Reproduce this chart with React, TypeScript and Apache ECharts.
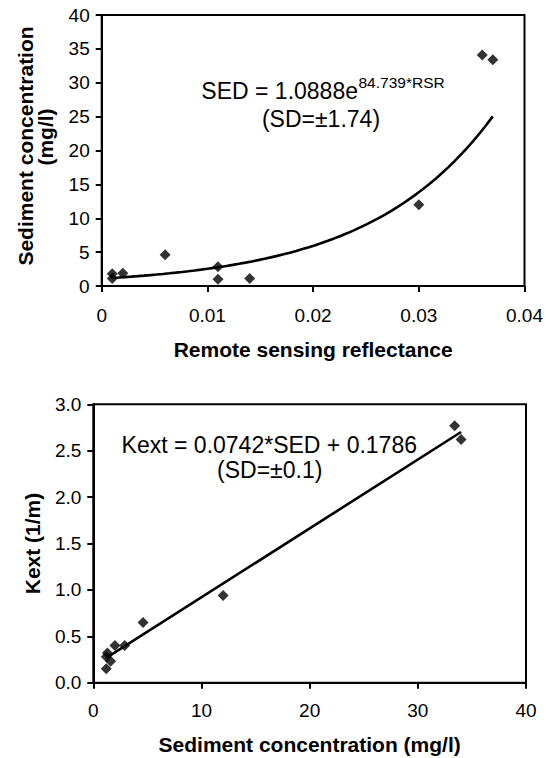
import { useEffect, useRef } from "react";
import * as echarts from "echarts";

// Top chart: remote sensing reflectance vs sediment concentration
const rsrValues = [0.001, 0.001, 0.002, 0.006, 0.011, 0.011, 0.014, 0.03, 0.036, 0.037];
const sedTopValues = [1.8, 1.1, 1.9, 4.6, 2.85, 1.0, 1.1, 12.0, 34.1, 33.4];
const topXTicks = [0, 0.01, 0.02, 0.03, 0.04];
const topYTicks = [0, 5, 10, 15, 20, 25, 30, 35, 40];
const expA = 1.0888;
const expB = 84.739;

// Bottom chart: sediment concentration vs Kext
const sedBottomValues = [1.2, 1.2, 1.3, 1.6, 2.0, 2.9, 4.6, 12.0, 33.4, 34.0];
const kextValues = [0.15, 0.28, 0.32, 0.23, 0.4, 0.4, 0.65, 0.94, 2.77, 2.62];
const bottomXTicks = [0, 10, 20, 30, 40];
const bottomYTicks = [0, 0.5, 1.0, 1.5, 2.0, 2.5, 3.0];
const linSlope = 0.0742;
const linIntercept = 0.1786;

const FONT = "'Liberation Sans', Arial, Helvetica, sans-serif";

export default function App() {
  const ref = useRef<HTMLDivElement>(null);

  useEffect(() => {
    if (!ref.current) return;
    const chart = echarts.init(ref.current, undefined, { renderer: "svg" });

    const topPoints = rsrValues.map((x, i) => [x, sedTopValues[i]]);
    const bottomPoints = sedBottomValues.map((x, i) => [x, kextValues[i]]);

    // trend lines from the equations shown on the chart
    const rMin = Math.min(...rsrValues);
    const rMax = Math.max(...rsrValues);
    const expCurve: number[][] = [];
    const nSteps = 60;
    for (let i = 0; i <= nSteps; i++) {
      const x = rMin + ((rMax - rMin) * i) / nSteps;
      expCurve.push([x, expA * Math.exp(expB * x)]);
    }
    const sMin = Math.min(...sedBottomValues);
    const sMax = Math.max(...sedBottomValues);
    const linLine = [
      [sMin, linSlope * sMin + linIntercept],
      [sMax, linSlope * sMax + linIntercept],
    ];

    const axisCommon = {
      axisLine: { show: true, lineStyle: { color: "#000", width: 2 } },
      axisTick: { show: true, inside: false, length: 6, lineStyle: { color: "#000", width: 2 } },
      splitLine: { show: false },
      nameTextStyle: { fontFamily: FONT, fontSize: 21, fontWeight: "bold" as const, color: "#000" },
    };

    const titleStyle = { fontFamily: FONT, fontSize: 21, fontWeight: "bold" as const, fill: "#000", align: "center" as const, verticalAlign: "middle" as const };

    chart.setOption({
      animation: false,
      backgroundColor: "#fff",
      grid: [
        { left: 101.7, right: 546 - 527.3, top: 15, height: 271, show: true, borderColor: "#000", borderWidth: 2, backgroundColor: "transparent" },
        { left: 93.3, right: 546 - 526, top: 404.3, height: 278.4, show: true, borderColor: "#000", borderWidth: 2, backgroundColor: "transparent" },
      ],
      xAxis: [
        {
          ...axisCommon,
          type: "value",
          gridIndex: 0,
          min: topXTicks[0],
          max: topXTicks[topXTicks.length - 1],
          interval: topXTicks[1] - topXTicks[0],
          name: "Remote sensing reflectance",
          nameLocation: "middle",
          nameGap: 53,
          axisLabel: { fontFamily: FONT, fontSize: 19, color: "#000", margin: 20 },
        },
        {
          ...axisCommon,
          type: "value",
          gridIndex: 1,
          min: bottomXTicks[0],
          max: bottomXTicks[bottomXTicks.length - 1],
          interval: bottomXTicks[1] - bottomXTicks[0],
          name: "Sediment concentration (mg/l)",
          nameLocation: "middle",
          nameGap: 51,
          axisLabel: { fontFamily: FONT, fontSize: 19, color: "#000", margin: 18 },
        },
      ],
      yAxis: [
        {
          ...axisCommon,
          type: "value",
          gridIndex: 0,
          min: topYTicks[0],
          max: topYTicks[topYTicks.length - 1],
          interval: topYTicks[1] - topYTicks[0],
          axisLabel: { fontFamily: FONT, fontSize: 19, color: "#000", margin: 12 },
        },
        {
          ...axisCommon,
          type: "value",
          gridIndex: 1,
          min: bottomYTicks[0],
          max: bottomYTicks[bottomYTicks.length - 1],
          interval: bottomYTicks[1] - bottomYTicks[0],
          name: "Kext (1/m)",
          nameLocation: "middle",
          nameRotate: 90,
          nameGap: 50,
          axisLabel: {
            fontFamily: FONT,
            fontSize: 19,
            color: "#000",
            margin: 12,
            formatter: (v: number) => v.toFixed(1),
          },
        },
      ],
      series: [
        {
          type: "line",
          xAxisIndex: 0,
          yAxisIndex: 0,
          data: expCurve,
          showSymbol: false,
          symbol: "none",
          smooth: false,
          lineStyle: { color: "#000", width: 2.6 },
          z: 2,
        },
        {
          type: "scatter",
          xAxisIndex: 0,
          yAxisIndex: 0,
          data: topPoints,
          symbol: "diamond",
          symbolSize: 11,
          itemStyle: { color: "#000" },
          z: 3,
        },
        {
          type: "line",
          xAxisIndex: 1,
          yAxisIndex: 1,
          data: linLine,
          showSymbol: false,
          symbol: "none",
          lineStyle: { color: "#000", width: 2.6 },
          z: 2,
        },
        {
          type: "scatter",
          xAxisIndex: 1,
          yAxisIndex: 1,
          data: bottomPoints,
          symbol: "diamond",
          symbolSize: 11,
          itemStyle: { color: "#000" },
          z: 3,
        },
      ],
      graphic: [
        {
          type: "text",
          x: 25.8,
          y: 146,
          rotation: Math.PI / 2,
          style: { ...titleStyle, text: "Sediment concentration" },
        },
        {
          type: "text",
          x: 45.5,
          y: 137,
          rotation: Math.PI / 2,
          style: { ...titleStyle, text: "(mg/l)" },
        },
        {
          type: "text",
          x: 358,
          y: 91.3,
          style: { text: "SED = 1.0888e", fontFamily: FONT, fontSize: 23, fill: "#000", align: "right", verticalAlign: "middle" },
        },
        {
          type: "text",
          x: 358.5,
          y: 82,
          style: { text: "84.739*RSR", fontFamily: FONT, fontSize: 15.5, fill: "#000", align: "left", verticalAlign: "middle" },
        },
        {
          type: "text",
          x: 321,
          y: 119,
          style: { text: "(SD=±1.74)", fontFamily: FONT, fontSize: 23, fill: "#000", align: "center", verticalAlign: "middle" },
        },
        {
          type: "text",
          x: 269.3,
          y: 444.7,
          style: { text: "Kext = 0.0742*SED + 0.1786", fontFamily: FONT, fontSize: 23, fill: "#000", align: "center", verticalAlign: "middle" },
        },
        {
          type: "text",
          x: 269.7,
          y: 470,
          style: { text: "(SD=±0.1)", fontFamily: FONT, fontSize: 23, fill: "#000", align: "center", verticalAlign: "middle" },
        },
      ],
    });

    return () => chart.dispose();
  }, []);

  return (
    <div
      ref={ref}
      style={{ position: "absolute", left: 0, top: 0, width: 546, height: 758, background: "#fff" }}
    />
  );
}
